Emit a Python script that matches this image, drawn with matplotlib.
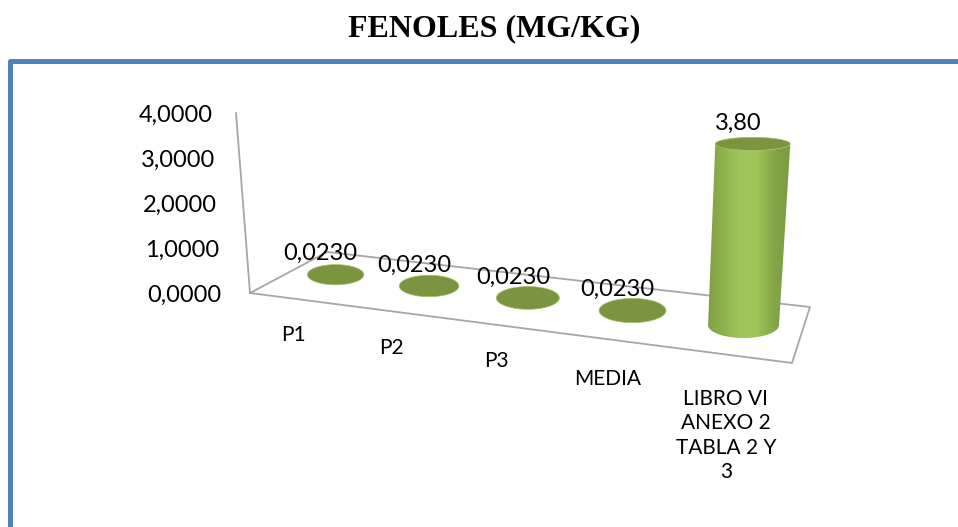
import numpy as np
import matplotlib
matplotlib.use("Agg")
import matplotlib.pyplot as plt
from matplotlib.patches import Polygon
from matplotlib.colors import LinearSegmentedColormap

title = "FENOLES (MG/KG)"
categories = ["P1", "P2", "P3", "MEDIA", "LIBRO VI\nANEXO 2\nTABLA 2 Y\n3"]
values = [0.0230, 0.0230, 0.0230, 0.0230, 3.80]
value_labels = ["0,0230", "0,0230", "0,0230", "0,0230", "3,80"]
y_ticks = [0, 1, 2, 3, 4]
y_tick_labels = ["0,0000", "1,0000", "2,0000", "3,0000", "4,0000"]

W, H = 958, 527
plt.rcParams['font.family'] = ['Lato', 'DejaVu Sans']
fig = plt.figure(figsize=(W / 100, H / 100), dpi=100)
ax = fig.add_axes([0, 0, 1, 1])
ax.set_xlim(0, W)
ax.set_ylim(H, 0)
ax.axis('off')

# perspective scale: floor (category position, depth) -> pixels
src = [(0, 0), (5, 0), (5, 1), (0, 1)]
dst = [(250, 293), (792, 363), (810, 307), (327, 252)]
A, b = [], []
for (u, v), (x, y) in zip(src, dst):
    A.append([u, v, 1, 0, 0, 0, -u * x, -v * x]); b.append(x)
    A.append([0, 0, 0, u, v, 1, -u * y, -v * y]); b.append(y)
M = np.append(np.linalg.solve(np.array(A, float), np.array(b, float)), 1).reshape(3, 3)
VP = np.array([549.0, 4137.0])
K = 0.0117


def floor(u, v):
    p = M @ np.array([u, v, 1.0])
    return p[:2] / p[2]


def lift(u, v, z):
    p = M @ np.array([u, v, 1.0])
    pt = p[:2] / p[2]
    return pt + (pt - VP) * K * z * (1 / p[2]) ** 1.0


GREY = '#a6a6a6'
corners = np.array([floor(*c) for c in src] + [floor(0, 0)])
ax.plot(corners[:, 0], corners[:, 1], color=GREY, lw=1.3, zorder=1)
axis_pts = np.array([floor(0, 0), lift(0, 0, y_ticks[-1])])
ax.plot(axis_pts[:, 0], axis_pts[:, 1], color=GREY, lw=1.3, zorder=1)

body_cmap = LinearSegmentedColormap.from_list(
    'body', ['#7f9f44', '#8fb44e', '#9fc75a', '#9cc457', '#84a548', '#7a9a40'])
gradient = np.linspace(0, 1, 256)[None, :]

RU, RV = 0.31, 0.24
label_drop = [0, 0, 0, 3, 8]
for i, val in enumerate(values):
    uc, vc = i + 0.5, 0.5
    centre = floor(uc, vc) + np.array([0, -1])
    top_c = lift(uc, vc, val) + np.array([0, -1])
    rx = abs(floor(uc + RU, vc)[0] - floor(uc - RU, vc)[0]) / 2
    ry = abs(floor(uc, vc + RV)[1] - floor(uc, vc - RV)[1]) / 2
    th = np.linspace(0, np.pi, 61)
    base = np.c_[centre[0] - rx * np.cos(th), centre[1] + ry * np.sin(th)]
    tx, ty = rx * (1 + 0.015 * val), ry * (1 - 0.13 * val)
    top_front = np.c_[top_c[0] - tx * np.cos(th), top_c[1] + ty * np.sin(th)]
    body = np.vstack([base, top_front[::-1]])
    patch = Polygon(body, closed=True, fc='none', ec='none', zorder=3 + i)
    ax.add_patch(patch)
    if val > 0.1:
        x0, x1 = body[:, 0].min(), body[:, 0].max()
        y0, y1 = body[:, 1].min(), body[:, 1].max()
        im = ax.imshow(gradient, extent=(x0, x1, y1, y0), aspect='auto', cmap=body_cmap,
                       interpolation='bilinear', zorder=3 + i)
        im.set_clip_path(patch)
    tt = np.linspace(0, 2 * np.pi, 81)
    top_ring = np.c_[top_c[0] + tx * np.cos(tt), top_c[1] + ty * np.sin(tt)]
    ax.add_patch(Polygon(top_ring, closed=True, fc='#7a943f', ec='#a3bd6a', lw=0.5, zorder=3 + i))
    lab = top_c + np.array([-15, -21])
    ax.text(lab[0], lab[1], value_labels[i], ha='center', va='center', fontsize=17,
            color='black', zorder=20)
    fp = floor(uc, 0)
    ax.text(fp[0] - 4, fp[1] + 26 + label_drop[i], categories[i], ha='center', va='top',
            fontsize=15, color='black', linespacing=1.27, zorder=20)

ax.set_xlim(0, W)
ax.set_ylim(H, 0)

for z, lbl in zip(y_ticks, y_tick_labels):
    p = lift(0, 0, z)
    ax.text(p[0] - 29 + 1.5 * z, p[1] + 2, lbl, ha='right', va='center', fontsize=17,
            color='black', zorder=20)

# blue frame
ax.plot([10, 10, W + 5], [H + 5, 61, 61], color='#4f81bd', lw=3.6,
        solid_joinstyle='round', zorder=2)

ax.text(494, 29, title, ha='center', va='center', fontsize=23, fontweight='bold',
        family='Liberation Serif', color='black')

fig.savefig('out.png', dpi=100)
